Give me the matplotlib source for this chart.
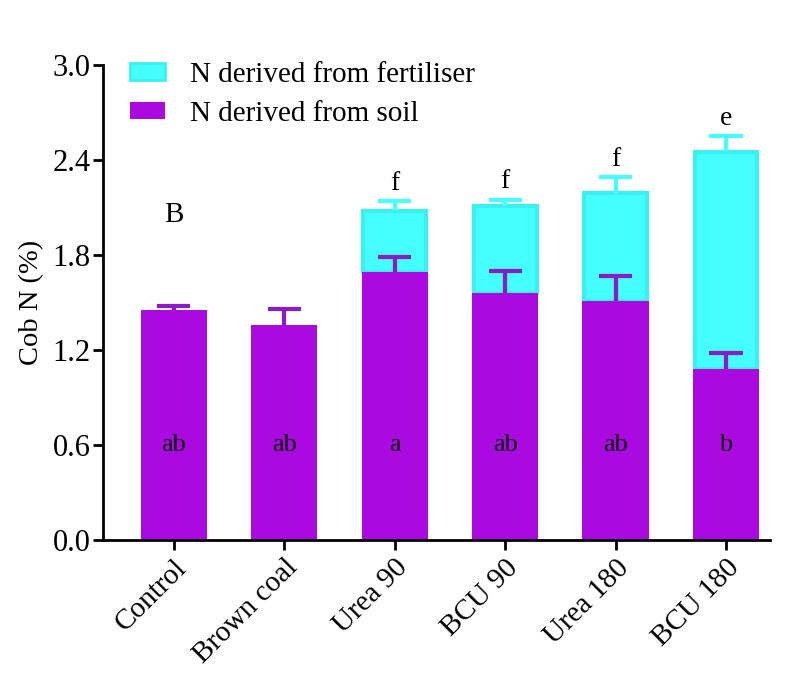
import matplotlib
matplotlib.use("Agg")
import matplotlib.pyplot as plt
from matplotlib.patches import Patch

plt.rcParams['font.family'] = ['Liberation Serif', 'DejaVu Serif']

treatments = ["Control", "Brown coal", "Urea 90", "BCU 90", "Urea 180", "BCU 180"]
soil_n = [1.45, 1.36, 1.69, 1.56, 1.51, 1.08]
soil_err = [0.03, 0.10, 0.10, 0.14, 0.16, 0.10]
total_n = [None, None, 2.08, 2.11, 2.19, 2.45]
total_err = [None, None, 0.06, 0.04, 0.10, 0.10]
soil_letters = ["ab", "ab", "a", "ab", "ab", "b"]
total_letters = [None, None, "f", "f", "f", "e"]

purple = "#AA0ADF"
purple_err = "#8A1BC8"
cyan = "#45FFFF"
cyan_edge = "#3BF0F0"

fig = plt.figure(figsize=(7.94, 6.75), dpi=100)
ax = fig.add_axes([0.130, 0.200, 0.840, 0.7037])

x = list(range(len(treatments)))
width = 0.6
cap = 0.15


def upper_errbar(xc, top, err, color):
    # one-sided (upward) error bar with a cap
    ax.vlines(xc, top, top + err, colors=color, linewidth=3, zorder=3)
    ax.hlines(top + err, xc - cap, xc + cap, colors=color, linewidth=3, zorder=3)


# fertiliser-derived N stacked on soil-derived N
for i in x:
    if total_n[i] is not None:
        fert = total_n[i] - soil_n[i]
        ax.bar(i, fert, width=width - 0.03, bottom=soil_n[i], color=cyan,
               edgecolor=cyan_edge, linewidth=3, zorder=2)
        upper_errbar(i, total_n[i], total_err[i], cyan)
        ax.text(i, total_n[i] + total_err[i] + 0.035, total_letters[i],
                ha='center', va='bottom', fontsize=20)

ax.bar(x, soil_n, width=width, color=purple, edgecolor='none', zorder=2)
for i in x:
    upper_errbar(i, soil_n[i], soil_err[i], purple_err)
    ax.text(i, 0.6, soil_letters[i], ha='center', va='center', fontsize=19)

ax.text(0, 2.05, "B", ha='center', va='center', fontsize=21)

ax.set_xlim(-0.64, 5.4)
ax.set_ylim(0, 3.0)
ax.set_yticks([0.0, 0.6, 1.2, 1.8, 2.4, 3.0])
ax.set_yticklabels(["0.0", "0.6", "1.2", "1.8", "2.4", "3.0"])
ax.set_xticks(x)
ax.set_xticklabels(treatments, rotation=45, ha='right', rotation_mode='anchor')
ax.tick_params(axis='y', labelsize=22, width=2, length=7, direction='out', pad=2)
ax.tick_params(axis='x', labelsize=21, width=2, length=7, direction='out')
ax.set_ylabel("Cob N (%)", fontsize=20.5, labelpad=6)

for side in ('top', 'right'):
    ax.spines[side].set_visible(False)
for side in ('left', 'bottom'):
    ax.spines[side].set_linewidth(2)

handles = [Patch(facecolor=cyan, edgecolor=cyan_edge, linewidth=2, label="N derived from fertiliser"),
           Patch(facecolor=purple, edgecolor='none', label="N derived from soil")]
ax.legend(handles=handles, loc='upper left', bbox_to_anchor=(0.04, 1.007),
          frameon=False, fontsize=21, handlelength=1.2, handleheight=0.55,
          labelspacing=0.45, handletextpad=0.85, borderpad=0, borderaxespad=0)

fig.savefig("out.png", dpi=100)
